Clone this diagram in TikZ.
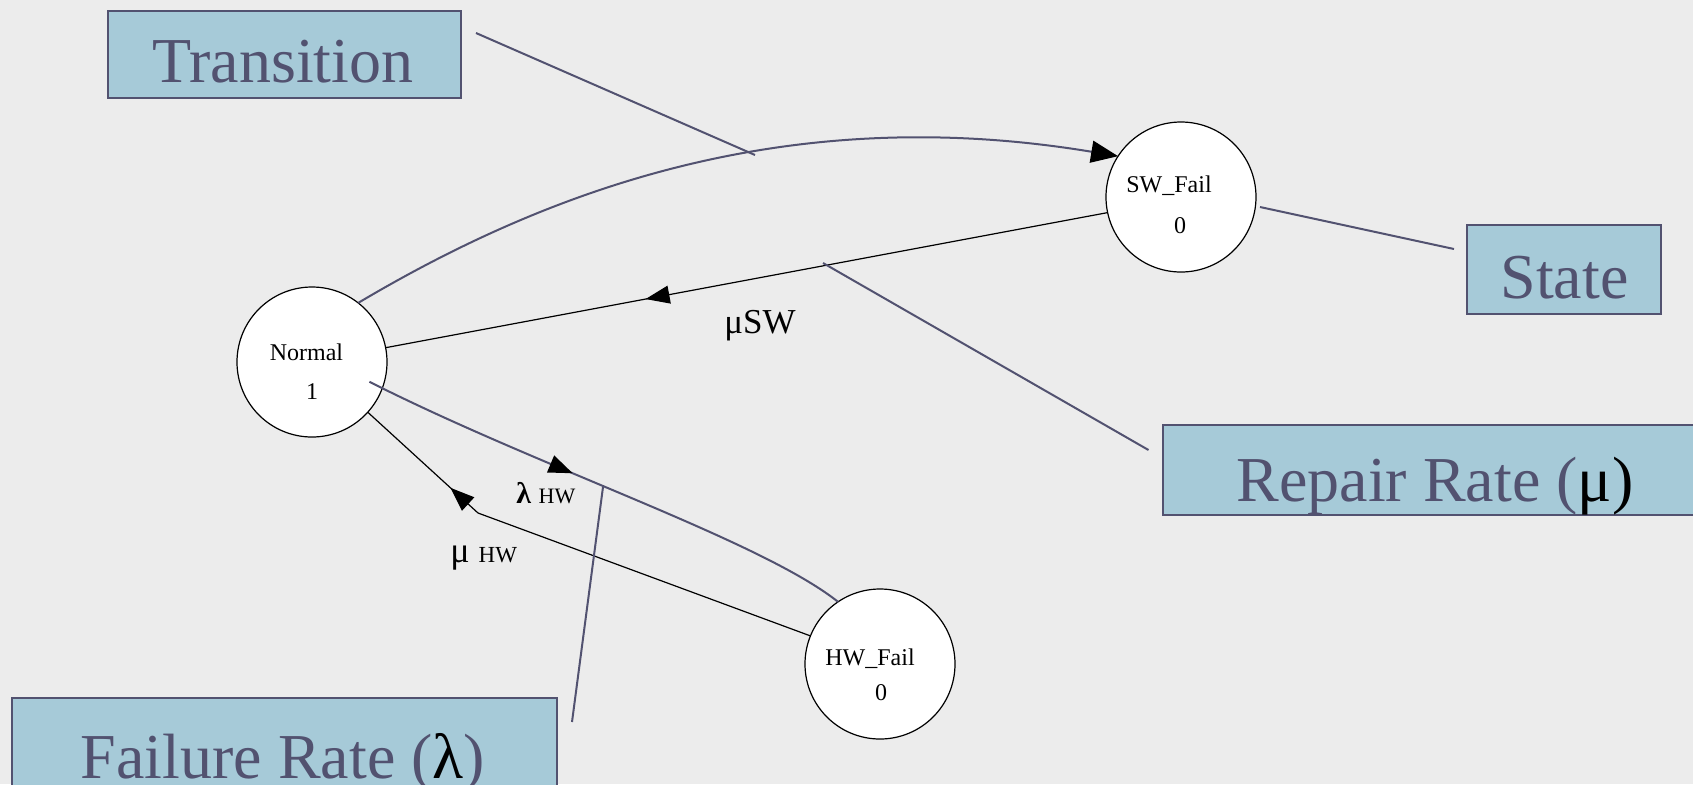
\documentclass[tikz,border=0pt]{standalone}
\usepackage{fontspec}
\setmainfont{Liberation Serif}
\usetikzlibrary{arrows.meta,decorations.markings,calc}
\definecolor{paper}{RGB}{236,236,236}
\definecolor{slate}{RGB}{82,82,112}
\definecolor{boxblue}{RGB}{166,202,216}
\tikzset{
  x=0.5pt, y=-0.5pt,
  state/.style={circle, draw=black, line width=0.6pt, fill=white, minimum size=75pt, inner sep=0pt, outer sep=0pt},
  statetext/.style={anchor=base, font=\fontsize{12}{12}\selectfont, inner sep=0pt},
  callout/.style={draw=slate, line width=1pt, fill=boxblue, inner sep=0pt, outer sep=0pt},
  callouttext/.style={anchor=base, text=slate, font=\fontsize{32}{32}\selectfont, inner sep=0pt},
  pointer/.style={draw=slate, line width=1pt},
  flow/.style={draw=black, line width=0.6pt},
  rate/.style={draw=slate, line width=1pt},
  ratelabel/.style={anchor=base west, inner sep=0pt},
  midtip/.style={postaction=decorate, decoration={markings,
      mark=at position #1 with {\arrow{Triangle[length=12pt,width=9pt,color=black]}}}},
}
\begin{document}
\begin{tikzpicture}
  % paper
  \path[use as bounding box, fill=paper] (0,0) rectangle (1693,784);
  \clip (0,0) rectangle (1693,784);

  % states
  \node[state] (nrm) at (312,362) {};
  \node[state] (swf) at (1181,197) {};
  \node[state] (hwf) at (880,664) {};

  \node[statetext] (nrm1) at (306.5,360) {Normal};
  \node[statetext] (nrm2) at (312,399) {1};
  \node[statetext] (swf1) at (1169,192) {SW\_Fail};
  \node[statetext] (swf2) at (1180,233) {0};
  \node[statetext] (hwf1) at (870,665) {HW\_Fail};
  \node[statetext] (hwf2) at (881,700) {0};

  % transitions
  \draw[rate, -{Triangle[length=13.5pt,width=11pt,color=black]}]
    (nrm.52) .. controls (540,195) and (780,100) .. (swf.147);
  \draw[flow, midtip=0.64] (swf.192) -- (nrm.11);

  \coordinate (nrmout) at ($(nrm.center)!0.81!(nrm.-19)$);
  \draw[rate, midtip=0.43] (nrmout) .. controls (540,468) and (760,540) .. (hwf.124);

  \coordinate (kink) at (478,513);
  \draw[flow] (hwf.158) -- (kink);
  \draw[flow, midtip=0.25] (kink) -- (nrm.-42);

  % rate labels
  \node[anchor=base, inner sep=0pt, font=\fontsize{17.5}{17.5}\selectfont] (musw) at (760,333) {μSW};
  \node[ratelabel] (lamhw) at (516,503) {\fontsize{15}{15}\selectfont\bfseries λ \mdseries\fontsize{11}{11}\selectfont HW};
  \node[ratelabel] (muhw) at (450,562) {\fontsize{18}{18}\selectfont μ \fontsize{11.5}{11.5}\selectfont HW};

  % callout boxes
  \node[callout, minimum width=176.5pt, minimum height=43.5pt] (tbox) at (284.5,54.5) {};
  \node[callouttext] (ttxt) at (283,82) {Transition};

  \node[callout, minimum width=97pt, minimum height=44.5pt] (sbox) at (1564,269.5) {};
  \node[callouttext] (stxt) at (1564.5,298) {State};

  \node[callout, minimum width=278.5pt, minimum height=45pt] (rbox) at (1441.5,470) {};
  \node[callouttext] (rtxt) at (1435,501) {Repair Rate (\textcolor{black}{μ)}};

  \node[callout, minimum width=272.75pt, minimum height=51.15pt] (fbox) at (284.25,748.85) {};
  \node[callouttext] (ftxt) at (283,778) {Failure Rate (\textcolor{black}{λ})};

  % callout pointers
  \coordinate (tA) at (476,33);    \coordinate (tB) at (755,155);
  \coordinate (sA) at (1260,207);  \coordinate (sB) at (1454,249);
  \coordinate (rA) at (823,263);   \coordinate (rB) at (1148.5,450);
  \coordinate (fA) at (603,487);   \coordinate (fB) at (572,722);
  \draw[pointer] (tA) -- (tB);
  \draw[pointer] (sA) -- (sB);
  \draw[pointer] (rA) -- (rB);
  \draw[pointer] (fA) -- (fB);
\end{tikzpicture}
\end{document}
